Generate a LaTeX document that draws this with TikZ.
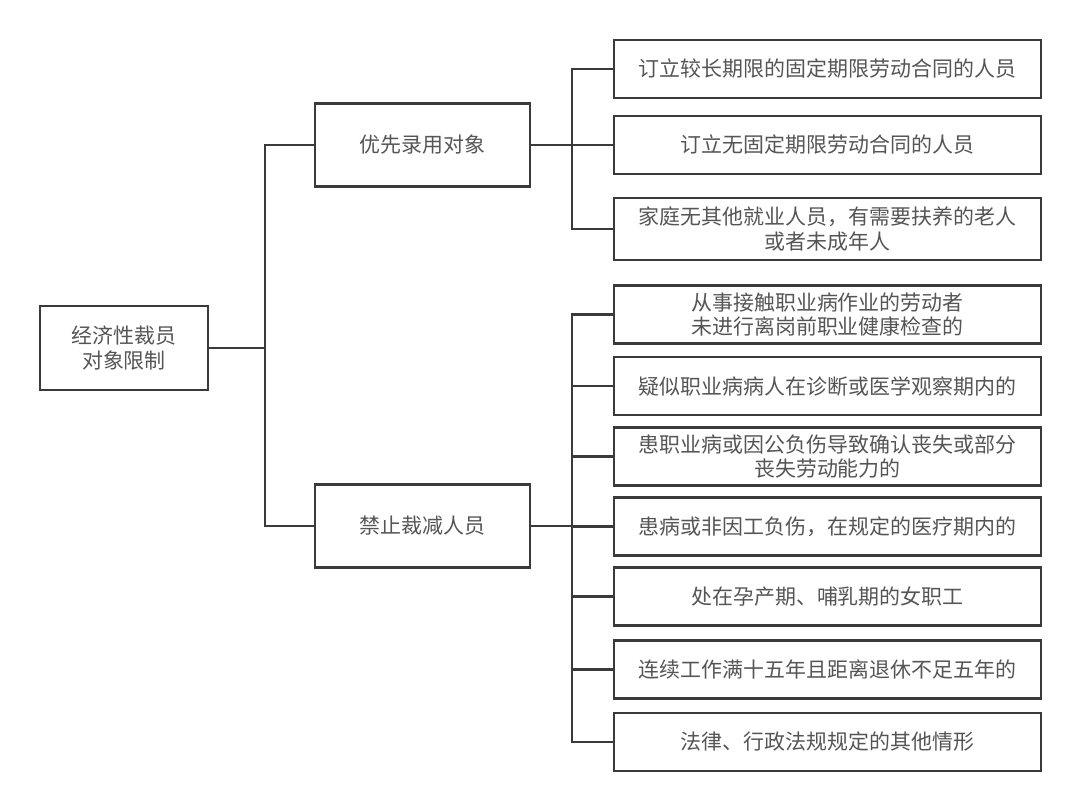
\documentclass[tikz,border=0pt]{standalone}
\usepackage{fontspec}
\newfontfamily\cjk{Noto Sans CJK SC}
\usepackage{tikz}
\usetikzlibrary{calc,positioning}
\definecolor{linegray}{HTML}{3A3A3A}
\definecolor{textgray}{HTML}{555555}
\tikzset{
  box/.style={draw=linegray,line width=2pt,fill=white,inner sep=0pt,
    align=center,text=textgray,font=\cjk\fontsize{14.9}{17.7}\selectfont},
  rootbox/.style={box,minimum width=4.2cm,minimum height=2.1cm},
  midbox/.style={box,minimum width=5.375cm,minimum height=2.08cm},
  leafbox/.style={box,minimum width=10.675cm,minimum height=1.45cm},
  link/.style={draw=linegray,line width=2pt}
}

\begin{document}
\begin{tikzpicture}[x=0.025cm,y=-0.025cm]
  \useasboundingbox (0,0) rectangle (1080,811);
  % root and the two groups
  \node[rootbox] (root) at (124,348) {经济性裁员\\对象限制};
  \node[midbox] (pri) at (422.5,145) {优先录用对象};
  \node[midbox] (ban) at (422.5,526) {禁止裁减人员};
  % leaves of the first group
  \node[leafbox] (p1) at (827.5,69) {订立较长期限的固定期限劳动合同的人员};
  \node[leafbox] (p2) at (827.5,145) {订立无固定期限劳动合同的人员};
  \node[leafbox,minimum height=1.55cm] (p3) at (827.5,229) {家庭无其他就业人员，有需要扶养的老人\\或者未成年人};
  % leaves of the second group
  \node[leafbox] (b1) at (827.5,314.5) {从事接触职业病作业的劳动者\\未进行离岗前职业健康检查的};
  \node[leafbox] (b2) at (827.5,386) {疑似职业病病人在诊断或医学观察期内的};
  \node[leafbox] (b3) at (827.5,456.5) {患职业病或因公负伤导致确认丧失或部分\\丧失劳动能力的};
  \node[leafbox] (b4) at (827.5,526.5) {患病或非因工负伤，在规定的医疗期内的};
  \node[leafbox] (b5) at (827.5,596.5) {处在孕产期、哺乳期的女职工};
  \node[leafbox] (b6) at (827.5,669.5) {连续工作满十五年且距离退休不足五年的};
  \node[leafbox] (b7) at (827.5,742) {法律、行政法规规定的其他情形};

  \coordinate (j0) at (265,348);
  \coordinate (j1) at (572,145);
  \coordinate (j2) at (572,526);

  \draw[link] (root.east) -- (j0);
  \draw[link] (j0) |- (pri.west);
  \draw[link] (j0) |- (ban.west);
  \draw[link] (pri.east) -- (j1);
  \draw[link] (ban.east) -- (j2);
  \foreach \i in {1,2,3}
    \draw[link] (j1) |- (p\i.west);
  \foreach \i in {1,...,7}
    \draw[link] (j2) |- (b\i.west);
\end{tikzpicture}
\end{document}
